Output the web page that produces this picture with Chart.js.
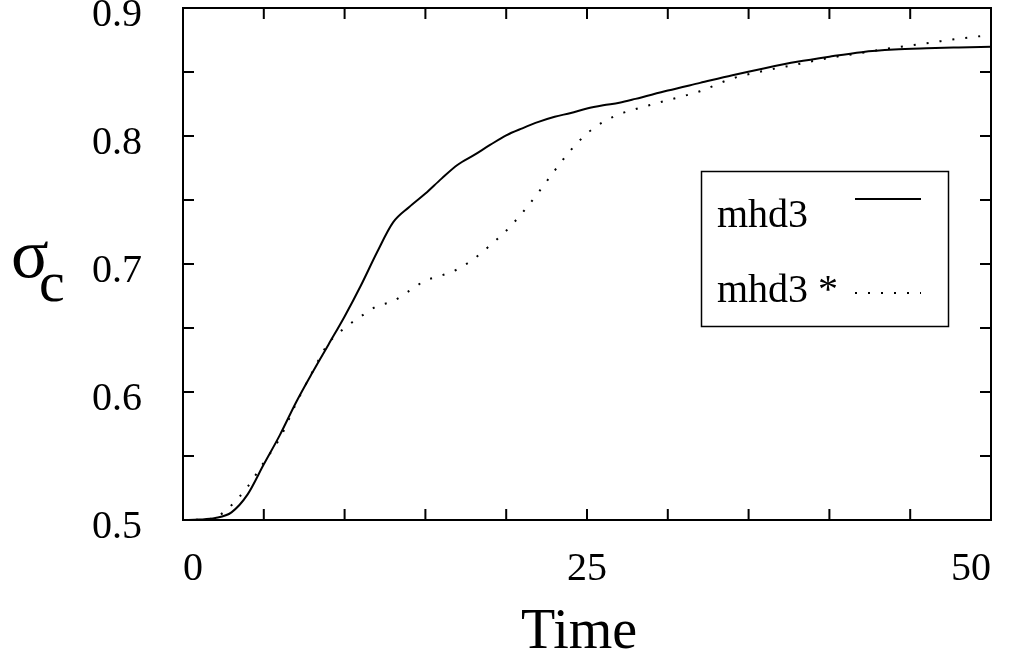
<!DOCTYPE html>
<html>
<head>
<meta charset="utf-8">
<script src="https://cdn.jsdelivr.net/npm/chart.js@4"></script>
<style>
  html, body { margin: 0; padding: 0; background: #fff; }
  #wrap { width: 1011px; height: 662px; }
</style>
</head>
<body>
<div id="wrap"><canvas id="chart"></canvas></div>
<script>
// ----------------------
// DATA
// ----------------------
const times = [0, 1, 2, 3, 4, 5, 6, 7, 8, 9, 10, 11, 12, 13, 14, 15, 16, 17, 18, 19, 20,
               21, 22, 23, 24, 25, 26, 27, 28, 30, 32, 34, 36, 38, 40, 42, 44, 46, 48, 50];

const mhd3 = [0.500, 0.5003, 0.5015, 0.506, 0.520, 0.5435, 0.5665, 0.592, 0.615, 0.637, 0.659,
              0.683, 0.709, 0.7325, 0.7445, 0.755, 0.7667, 0.7775, 0.785, 0.793, 0.8005,
              0.806, 0.811, 0.815, 0.818, 0.8215, 0.824, 0.826, 0.829, 0.8355, 0.8415,
              0.8475, 0.853, 0.858, 0.862, 0.8655, 0.8675, 0.8685, 0.8692, 0.8698];

const mhd3Star = [0.500, 0.5003, 0.502, 0.5115, 0.526, 0.545, 0.564, 0.591, 0.6155, 0.638, 0.650,
                  0.659, 0.667, 0.671, 0.679, 0.687, 0.691, 0.696, 0.704, 0.7145, 0.726,
                  0.740, 0.756, 0.773, 0.789, 0.802, 0.811, 0.817, 0.821, 0.828, 0.835,
                  0.845, 0.851, 0.856, 0.861, 0.865, 0.869, 0.8725, 0.876, 0.879];

const seriesLabels = ["mhd3", "mhd3 *"];
const xTickLabels = [0, 25, 50];
const yTickLabels = [0.5, 0.6, 0.7, 0.8, 0.9];
const xTitle = "Time";

const SERIF = "'Liberation Serif', 'Times New Roman', serif";

const toPoints = (ys) => times.map((t, i) => ({ x: t, y: ys[i] }));

// frame, inward ticks, axis titles and boxed legend
const framePlugin = {
    id: "frame",
    afterDraw(chart) {
        const ctx = chart.ctx;
        const a = chart.chartArea;
        const xs = chart.scales.x, ys = chart.scales.y;
        ctx.save();
        ctx.strokeStyle = "#000";
        ctx.lineWidth = 2;
        ctx.strokeRect(a.left, a.top, a.right - a.left, a.bottom - a.top);

        const len = 11;
        ctx.beginPath();
        xs.ticks.forEach(t => {
            const px = xs.getPixelForValue(t.value);
            ctx.moveTo(px, a.bottom); ctx.lineTo(px, a.bottom - len);
            ctx.moveTo(px, a.top); ctx.lineTo(px, a.top + len);
        });
        ys.ticks.forEach(t => {
            const py = ys.getPixelForValue(t.value);
            ctx.moveTo(a.left, py); ctx.lineTo(a.left + len, py);
            ctx.moveTo(a.right, py); ctx.lineTo(a.right - len, py);
        });
        ctx.stroke();

        ctx.fillStyle = "#000";
        ctx.textBaseline = "alphabetic";

        // Time
        ctx.textAlign = "center";
        ctx.font = "56px " + SERIF;
        ctx.fillText(xTitle, 579, 648);

        // sigma_c
        ctx.textAlign = "left";
        ctx.font = "70px " + SERIF;
        ctx.fillText("\u03C3", 11, 277);
        ctx.font = "58px " + SERIF;
        ctx.fillText("c", 39, 301);

        // legend
        ctx.lineWidth = 1.5;
        ctx.strokeRect(701.5, 171.5, 247, 155);
        ctx.font = "40px " + SERIF;
        const rows = [{ textY: 227, lineY: 199 }, { textY: 302, lineY: 293 }];
        chart.data.datasets.forEach((ds, i) => {
            ctx.fillText(ds.label, 717, rows[i].textY);
            ctx.beginPath();
            ctx.lineWidth = ds.borderWidth;
            ctx.setLineDash(ds.borderDash || []);
            ctx.moveTo(855, rows[i].lineY);
            ctx.lineTo(921, rows[i].lineY);
            ctx.stroke();
            ctx.setLineDash([]);
        });
        ctx.restore();
    }
};

new Chart(document.getElementById("chart"), {
    type: "line",
    data: {
        datasets: [
            {
                label: seriesLabels[0],
                data: toPoints(mhd3),
                borderColor: "#000",
                borderWidth: 2,
                pointRadius: 0,
                cubicInterpolationMode: "monotone",
                fill: false
            },
            {
                label: seriesLabels[1],
                data: toPoints(mhd3Star),
                borderColor: "#000",
                borderWidth: 2,
                borderDash: [2, 11],
                pointRadius: 0,
                cubicInterpolationMode: "monotone",
                fill: false
            }
        ]
    },
    options: {
        responsive: true,
        maintainAspectRatio: false,
        animation: false,
        layout: { padding: { top: 8, right: 20, left: 0, bottom: 0 } },
        plugins: { legend: { display: false }, tooltip: { enabled: false } },
        scales: {
            x: {
                type: "linear",
                min: 0, max: 50,
                grid: { display: false, drawTicks: false },
                border: { display: false },
                ticks: {
                    stepSize: 5,
                    autoSkip: false,
                    maxRotation: 0,
                    align: "inner",
                    padding: 25,
                    color: "#000",
                    font: { family: SERIF, size: 40 },
                    callback: (v) => xTickLabels.includes(v) ? String(v) : ""
                },
                afterFit(scale) {
                    scale.height = 142;
                    scale.paddingLeft = 0;
                    scale.paddingRight = 0;
                }
            },
            y: {
                min: 0.5, max: 0.9,
                grid: { display: false, drawTicks: false },
                border: { display: false },
                ticks: {
                    stepSize: 0.05,
                    autoSkip: false,
                    padding: 41,
                    labelOffset: 7,
                    color: "#000",
                    font: { family: SERIF, size: 40 },
                    callback: (v) => yTickLabels.some(l => Math.abs(l - v) < 1e-6) ? v.toFixed(1) : ""
                },
                afterFit(scale) {
                    scale.width = 183;
                    scale.paddingTop = 0;
                    scale.paddingBottom = 0;
                }
            }
        }
    },
    plugins: [framePlugin]
});
</script>
</body>
</html>
